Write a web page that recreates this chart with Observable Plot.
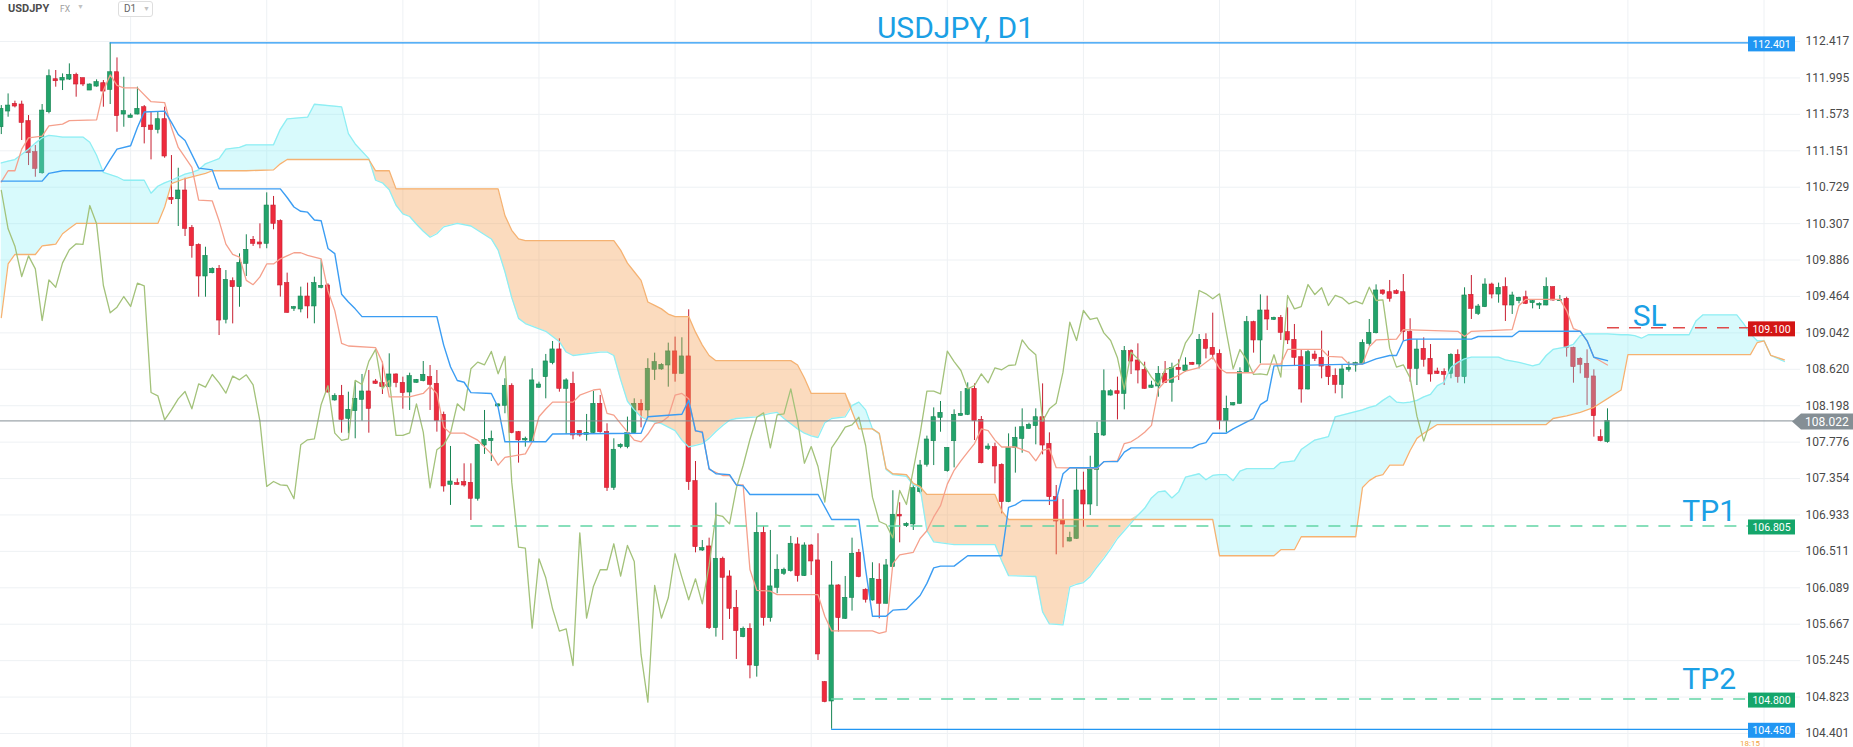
<!DOCTYPE html>
<html>
<head>
<meta charset="utf-8">
<script src="https://cdn.jsdelivr.net/npm/d3@7"></script>
<script src="https://cdn.jsdelivr.net/npm/@observablehq/plot@0.6"></script>
<style>
  html, body { margin: 0; padding: 0; background: #fff; overflow: hidden; }
  #wrap { position: relative; width: 1853px; height: 747px; font-family: Roboto, "Noto Sans", sans-serif; }
  #chart svg { display: block; }
  #hdr { position: absolute; left: 0; top: 0; width: 200px; height: 20px; }
  #sym { position: absolute; left: 8px; top: 2px; font-size: 11px; font-weight: 700; color: #4c4c4c; }
  #fx { position: absolute; left: 60px; top: 4px; font-size: 8.5px; color: #9d9d9d; }
  .tri { position: absolute; font-size: 7px; color: #c2c2c2; }
  #tf { position: absolute; left: 118px; top: 1px; width: 33px; height: 14px; border: 1px solid #dedede; border-radius: 3px; background: #fff; }
  #tf .lbl { position: absolute; left: 5px; top: 1px; font-size: 10px; color: #666; }
</style>
</head>
<body>
<div id="wrap">
  <div id="chart"></div>
  <div id="hdr">
    <span id="sym">USDJPY</span>
    <span id="fx">FX</span>
    <span class="tri" style="left:77px;top:3px;">&#9660;</span>
    <div id="tf"><span class="lbl">D1</span><span class="tri" style="left:24px;top:3px;">&#9660;</span></div>
  </div>
</div>
<script>
// ---------------- DATA ----------------
const open = [111.424,111.606,111.695,111.687,111.494,111.135,110.891,111.598,111.980,111.965,111.976,112.030,111.992,111.849,111.895,111.934,111.857,112.061,111.571,111.532,111.571,111.656,111.444,111.393,111.517,110.606,110.590,110.691,110.258,110.061,109.695,109.733,109.783,109.193,109.641,109.571,109.842,110.120,110.089,110.073,110.517,110.336,109.618,109.321,109.313,109.463,109.348,109.564,109.591,108.259,108.313,108.046,108.135,108.266,108.363,108.479,108.460,108.413,108.560,108.463,108.351,108.463,108.483,108.529,108.452,108.093,107.282,107.301,107.313,107.305,107.120,107.738,107.788,108.190,108.197,108.429,107.892,107.796,107.784,108.406,108.529,108.691,108.850,108.394,108.452,107.904,107.861,107.881,108.220,107.892,107.247,107.718,107.718,107.881,108.220,108.143,108.614,108.618,108.664,108.827,108.568,108.769,107.325,106.521,106.568,105.622,106.425,106.220,105.857,105.518,105.614,105.182,106.726,105.738,106.089,106.251,106.282,106.591,106.224,106.579,106.406,104.996,104.772,106.116,105.730,105.973,106.494,106.066,105.942,106.182,105.904,106.329,106.935,106.803,106.823,107.197,107.514,107.787,108.057,107.440,107.787,108.081,108.092,108.393,108.034,107.698,107.718,107.513,107.081,107.706,107.814,107.930,107.961,108.065,107.756,107.139,106.868,106.625,106.656,107.216,107.054,107.455,107.853,108.316,108.366,108.335,108.830,108.722,108.613,108.405,108.421,108.567,108.463,108.637,108.598,108.695,108.676,108.961,108.869,108.799,108.019,108.201,108.220,108.579,109.166,108.954,109.301,109.193,109.216,109.050,108.961,108.760,108.386,108.791,108.753,108.652,108.544,108.440,108.614,108.664,108.683,108.915,109.038,109.533,109.513,109.525,109.513,109.050,108.625,108.857,108.741,108.594,108.587,108.567,108.788,108.529,109.482,109.262,109.340,109.602,109.486,109.571,109.359,109.409,109.455,109.386,109.359,109.359,109.571,109.409,109.436,108.869,108.741,108.683,108.537,107.834,107.776];
const high = [111.675,111.810,111.726,111.726,111.559,111.212,111.687,112.088,112.081,112.042,112.158,112.050,111.992,111.926,111.973,111.965,112.401,112.227,112.003,111.579,111.888,111.675,111.598,111.598,111.656,111.096,110.949,110.834,110.285,110.073,110.034,109.795,109.822,109.764,109.679,109.957,110.178,110.158,110.305,110.664,110.622,110.351,109.734,109.348,109.572,109.618,109.687,109.888,109.610,108.336,108.433,108.355,108.471,108.560,108.606,108.502,108.703,108.799,108.567,108.529,108.575,108.502,108.710,108.664,108.606,108.124,107.726,107.351,107.525,107.525,107.750,108.143,107.904,108.220,108.510,108.452,107.900,107.834,108.626,108.471,108.792,108.942,108.973,108.510,108.587,107.911,108.097,108.363,108.317,107.989,107.815,107.757,108.066,108.278,108.267,108.742,108.807,108.684,108.923,108.993,108.985,109.309,107.552,106.637,106.664,107.070,106.444,106.286,106.058,105.634,105.672,106.958,106.800,106.753,106.471,106.317,106.684,106.668,106.610,106.591,106.715,105.004,106.394,106.124,106.220,106.664,106.533,106.078,106.379,106.367,106.417,107.213,107.074,106.842,107.274,107.564,107.846,108.173,108.247,107.710,108.150,108.362,108.463,108.451,108.073,107.756,107.764,107.525,107.872,107.949,108.162,107.996,108.162,108.451,107.884,107.274,107.111,106.733,107.467,107.428,107.613,108.007,108.613,108.382,108.529,108.884,108.845,108.915,108.702,108.482,108.652,108.710,108.691,108.730,108.753,108.700,109.023,109.031,109.270,108.845,108.309,108.235,108.637,109.232,109.177,109.482,109.467,109.224,109.243,109.332,109.139,108.849,108.845,108.830,109.062,108.830,108.625,108.672,108.703,108.703,108.961,109.197,109.598,109.540,109.649,109.540,109.718,109.205,108.961,108.984,108.907,108.633,108.625,108.799,108.845,109.564,109.706,109.371,109.668,109.618,109.618,109.679,109.513,109.455,109.525,109.425,109.390,109.679,109.575,109.475,109.455,108.876,108.753,108.845,108.614,107.919,108.162];
const low = [111.339,111.540,111.648,111.270,110.980,110.845,110.880,111.579,111.888,111.849,111.965,111.772,111.895,111.849,111.888,111.656,111.687,111.366,111.424,111.532,111.567,111.231,111.046,111.347,111.065,110.529,110.274,110.158,109.907,109.455,109.455,109.726,109.011,109.146,109.146,109.339,109.695,110.043,110.016,110.016,110.236,109.456,109.270,109.290,109.274,109.205,109.147,109.552,108.344,108.251,107.880,107.873,107.815,108.019,107.880,108.444,108.328,108.406,108.406,108.158,108.143,108.460,108.475,108.143,107.892,107.197,107.043,107.278,107.255,106.869,107.093,107.634,107.552,108.182,108.105,107.873,107.533,107.718,107.780,108.400,108.278,108.672,108.355,107.865,107.803,107.834,107.788,107.870,107.880,107.205,107.217,107.700,107.699,107.875,107.942,108.066,108.491,108.610,108.413,108.471,108.560,107.217,106.494,106.510,105.606,105.518,105.479,105.722,105.259,105.510,105.035,105.054,105.645,105.691,106.020,106.232,106.271,106.155,106.220,106.232,105.247,104.757,104.450,105.576,105.722,105.819,106.205,105.912,105.935,105.730,105.900,106.325,106.610,106.788,106.753,107.178,107.487,107.505,107.891,107.428,107.478,108.075,108.084,107.795,107.525,107.679,107.293,106.945,107.075,107.417,107.648,107.925,107.745,107.629,107.042,106.471,106.552,106.620,106.650,106.791,106.926,107.030,107.841,108.310,108.034,108.150,108.559,108.451,108.390,108.400,108.297,108.459,108.239,108.490,108.587,108.668,108.625,108.741,108.730,107.919,107.884,108.195,108.215,108.575,108.807,108.683,109.069,109.185,108.954,108.907,108.652,108.228,108.380,108.710,108.510,108.432,108.336,108.278,108.587,108.587,108.680,108.888,109.030,109.475,109.398,109.486,108.946,108.471,108.432,108.645,108.471,108.560,108.432,108.510,108.459,108.452,109.197,109.243,109.335,109.436,109.386,109.174,109.255,109.378,109.370,109.320,109.313,109.355,109.409,109.405,108.761,108.459,108.567,108.201,107.834,107.780,107.764];
const close = [111.637,111.675,111.664,111.474,111.123,110.942,111.617,112.015,111.957,111.996,112.030,111.919,111.919,111.919,111.946,111.837,112.061,111.552,111.610,111.559,111.637,111.424,111.393,111.517,111.085,110.583,110.691,110.247,110.046,109.695,109.934,109.783,109.185,109.656,109.571,109.853,110.004,110.073,110.066,110.517,110.305,109.591,109.274,109.340,109.463,109.348,109.618,109.587,108.351,108.313,108.035,108.151,108.278,108.363,108.162,108.452,108.413,108.560,108.463,108.344,108.541,108.498,108.556,108.440,108.019,107.263,107.320,107.282,107.274,107.120,107.745,107.803,107.815,108.213,108.429,107.881,107.796,107.815,108.491,108.444,108.711,108.850,108.394,108.491,107.854,107.854,107.884,108.220,107.892,107.247,107.688,107.745,107.881,108.220,108.143,108.626,108.703,108.672,108.827,108.568,108.769,107.313,106.560,106.549,105.622,106.425,106.205,105.846,105.587,105.614,105.189,106.726,105.738,106.105,106.298,106.298,106.599,106.224,106.579,106.394,105.317,104.765,106.116,105.738,105.973,106.483,106.213,105.950,106.193,105.904,106.348,106.935,106.915,106.830,107.243,107.506,107.807,108.065,108.115,107.710,108.092,108.104,108.393,108.019,107.532,107.725,107.494,107.081,107.710,107.826,107.949,107.976,108.065,107.737,107.139,106.857,106.822,106.667,107.216,107.054,107.455,107.872,108.366,108.366,108.335,108.830,108.710,108.606,108.393,108.432,108.567,108.463,108.637,108.614,108.664,108.672,108.961,108.857,108.788,108.019,108.162,108.228,108.587,109.166,108.954,109.301,109.197,109.216,109.042,108.954,108.753,108.386,108.818,108.741,108.652,108.529,108.440,108.618,108.637,108.691,108.927,109.042,109.533,109.494,109.436,109.494,109.050,108.625,108.849,108.730,108.560,108.567,108.556,108.788,108.529,109.475,109.320,109.347,109.602,109.486,109.564,109.359,109.475,109.448,109.378,109.409,109.378,109.571,109.417,109.425,108.865,108.645,108.672,108.521,108.077,107.788,108.022];

// Tenkan-sen (conversion line) read at bar indices
const tenkanIdx = [0,1,2,3,4,6,7,9,10,14,15,16,17,18,20,22,24,25,26,28,29,31,32,33,34,35,36,37,38,39,40,41,43,44,45,47,48,49,50,51,55,56,57,60,62,63,64,65,66,68,70,72,73,74,77,78,79,80,81,84,85,87,88,89,90,91,93,94,95,96,97,98,99,100,101,102,103,104,106,107,108,109,110,111,113,114,120,121,122,128,129,130,131,132,134,135,136,137,138,139,140,141,142,143,144,145,146,147,149,151,152,153,154,155,161,162,164,165,166,167,168,169,170,171,173,174,176,178,179,180,184,185,188,189,194,195,197,198,200,201,202,205,206,214,215,216,222,223,224,229,230,231,232,233,234,236];
const tenkanVal = [110.79,110.92,110.92,111.17,111.30,111.32,111.44,111.46,111.50,111.51,111.85,112.03,111.91,111.88,111.88,111.72,111.71,111.42,111.19,110.96,110.58,110.57,110.34,110.07,109.95,109.92,109.65,109.60,109.69,109.84,109.84,109.90,109.97,109.97,109.94,109.90,109.53,109.30,108.92,108.89,108.87,108.70,108.30,108.30,108.34,108.42,108.34,107.95,107.88,107.88,107.80,107.64,107.51,107.60,107.64,107.78,108.07,108.16,108.24,108.24,108.32,108.38,108.39,108.11,108.09,107.99,107.80,107.78,107.87,107.99,108.01,108.07,108.32,108.34,108.28,107.90,107.90,107.46,107.39,107.39,107.28,107.28,106.30,106.06,106.05,106.01,106.01,105.76,105.59,105.59,105.56,105.58,106.37,106.47,106.50,106.66,106.75,106.91,107.04,107.29,107.45,107.56,107.66,107.76,107.93,107.91,107.80,107.72,107.72,107.66,107.56,107.68,107.70,107.48,107.47,107.55,107.56,107.76,107.78,107.83,107.89,107.97,108.39,108.48,108.55,108.60,108.64,108.76,108.63,108.58,108.58,108.68,108.68,108.85,108.85,108.77,108.76,108.68,108.68,108.88,108.96,108.97,109.08,109.06,109.00,109.06,109.08,109.36,109.43,109.43,109.30,109.09,109.06,108.95,108.76,108.67];

// Kijun-sen (base line) read at bar indices
const kijunIdx = [0,6,7,9,15,16,17,19,20,21,24,25,26,27,29,31,32,41,42,43,44,45,46,47,48,49,50,51,52,53,64,65,66,67,68,69,72,73,74,80,81,94,95,100,101,102,103,104,105,107,108,109,110,120,122,126,127,128,130,131,133,135,136,137,138,140,142,147,148,149,150,155,156,157,161,162,164,165,166,175,176,177,178,180,181,182,183,184,185,186,187,199,200,202,204,205,206,207,216,217,222,223,232,233,234,236];
const kijunVal = [110.80,110.80,110.89,110.92,110.92,111.05,111.17,111.21,111.42,111.60,111.61,111.48,111.34,111.27,110.95,110.93,110.71,110.71,110.61,110.50,110.45,110.44,110.35,110.34,110.02,109.96,109.49,109.40,109.32,109.23,109.23,108.90,108.65,108.49,108.47,108.35,108.34,108.18,107.78,107.78,107.87,107.88,108.07,108.10,108.26,107.91,107.89,107.47,107.41,107.40,107.28,107.27,107.17,107.17,106.88,106.88,106.30,105.76,105.76,105.83,105.84,106.00,106.14,106.32,106.34,106.34,106.46,106.46,107.02,107.05,107.10,107.10,107.41,107.48,107.48,107.55,107.55,107.66,107.71,107.71,107.75,107.77,107.88,107.88,107.93,107.97,108.01,108.05,108.21,108.26,108.66,108.68,108.68,108.74,108.78,108.78,108.95,108.97,108.97,109.00,109.00,109.06,109.06,108.95,108.76,108.72];

// Senkou span A / B (cloud), both read at the same bar indices (projected 26 bars ahead)
const cloudIdx = [0,1,2,4,5,6,7,8,9,10,11,12,13,14,15,17,18,21,22,23,24,25,27,28,29,30,31,32,33,35,36,40,41,42,45,46,50,51,52,54,55,56,57,58,59,60,61,62,63,64,65,67,69,72,73,74,75,76,77,80,82,83,84,88,89,90,91,92,93,94,95,96,97,98,99,100,101,102,103,104,105,106,107,108,111,113,114,115,116,117,118,119,120,121,122,124,125,126,127,128,129,130,131,133,134,135,136,137,140,146,147,148,152,153,154,156,157,158,159,160,161,162,163,164,165,166,167,168,169,170,171,172,173,174,176,177,178,179,180,181,182,183,187,188,190,191,193,195,196,198,199,200,201,202,203,204,205,206,207,208,209,210,211,212,213,214,215,216,220,221,223,225,226,227,228,230,231,232,233,234,236,238,239,240,241,242,248,249,250,255,256,257,258,259,260,262];
const senkouA = [111.01,111.03,111.05,111.17,111.24,111.30,111.33,111.32,111.31,111.31,111.31,111.31,111.25,111.10,110.90,110.85,110.81,110.81,110.66,110.74,110.78,110.81,110.88,110.90,110.93,111.00,111.03,111.06,111.17,111.19,111.22,111.22,111.40,111.52,111.54,111.69,111.66,111.35,111.23,111.06,110.81,110.78,110.70,110.52,110.42,110.39,110.30,110.22,110.15,110.19,110.27,110.31,110.28,110.13,110.00,109.75,109.45,109.21,109.15,109.06,108.94,108.82,108.78,108.82,108.82,108.78,108.50,108.25,108.15,108.07,108.03,108.01,107.99,107.95,107.91,107.80,107.72,107.74,107.76,107.82,107.90,107.97,108.03,108.05,108.07,108.11,108.12,108.05,107.99,107.93,107.88,107.85,107.83,108.00,108.05,108.07,108.20,108.24,108.15,107.93,107.87,107.46,107.40,107.38,107.28,107.25,106.75,106.62,106.59,106.59,106.40,106.23,106.22,105.81,105.67,105.66,106.10,106.13,106.15,106.22,106.33,106.43,106.54,106.66,106.75,106.84,106.93,107.01,107.13,107.20,107.21,107.13,107.20,107.37,107.41,107.34,107.39,107.40,107.40,107.33,107.44,107.47,107.47,107.54,107.56,107.69,107.80,107.84,108.07,108.11,108.13,108.15,108.18,108.20,108.26,108.31,108.24,108.23,108.24,108.26,108.30,108.33,108.43,108.47,108.64,108.70,108.74,108.76,108.76,108.73,108.70,108.66,108.68,108.78,108.85,108.88,108.91,109.01,109.03,109.03,109.03,109.02,109.02,109.01,108.98,109.02,109.02,109.18,109.25,109.25,109.15,109.03,108.95,108.95,108.78,108.71];
const senkouB = [109.22,109.84,109.95,109.95,109.95,110.05,110.06,110.07,110.19,110.25,110.31,110.31,110.31,110.31,110.31,110.31,110.31,110.31,110.31,110.31,110.50,110.77,110.83,110.85,110.87,110.89,110.92,110.92,110.92,110.92,110.92,110.93,111.00,111.05,111.05,111.05,111.05,111.05,111.05,111.05,110.92,110.92,110.92,110.71,110.71,110.71,110.71,110.71,110.71,110.71,110.71,110.71,110.71,110.71,110.71,110.40,110.23,110.13,110.11,110.11,110.11,110.11,110.11,110.11,110.11,110.11,110.00,109.85,109.75,109.65,109.40,109.36,109.32,109.26,109.23,109.23,109.23,109.05,108.90,108.78,108.72,108.72,108.72,108.72,108.72,108.72,108.72,108.72,108.72,108.67,108.52,108.34,108.34,108.34,108.34,108.34,108.13,107.93,107.93,107.93,107.88,107.47,107.41,107.40,107.30,107.26,107.17,107.17,107.17,107.17,106.98,106.88,106.88,106.88,106.88,106.88,106.88,106.88,106.88,106.88,106.88,106.88,106.88,106.88,106.88,106.88,106.88,106.88,106.88,106.88,106.88,106.88,106.88,106.88,106.88,106.88,106.88,106.46,106.46,106.46,106.46,106.46,106.46,106.53,106.53,106.68,106.68,106.68,106.68,106.68,106.68,107.25,107.33,107.38,107.40,107.51,107.51,107.51,107.68,107.82,107.88,107.93,107.98,107.98,107.98,107.98,107.98,107.98,107.98,107.98,107.98,107.98,107.98,107.98,108.05,108.08,108.10,108.12,108.15,108.18,108.28,108.38,108.79,108.79,108.79,108.79,108.79,108.79,108.79,108.79,108.79,108.79,108.93,108.95,108.78,108.73];

// Price levels drawn on the chart
const levelValues = [112.401, 109.100, 106.805, 104.800, 104.450];
const levelFromBar = [16, 236, 69, 122, 122];
const levelKind = ["high", "sl", "tp", "tp", "low"];
const lastPrice = 108.022;

// Axis tick labels (right price scale) and vertical grid bars
const tickLabels = [112.417,111.995,111.573,111.151,110.729,110.307,109.886,109.464,109.042,108.620,108.198,107.776,107.354,106.933,106.511,106.089,105.667,105.245,104.823,104.401];
const gridBars = [19,39,59,79,99,119,139,159,179,199,219,239,259];

// Text annotations
const annText = ["SL", "TP1", "TP2"];
const annPrice = [109.127, 106.860, 104.911];
const annBar = [239.7, 247.0, 247.0];

// ---------------- LAYOUT / STYLE ----------------
const W = 1853, H = 747, MR = 53;
const xDomain = [-0.1175, 264.36];
const yDomain = [104.239, 112.892];
const xs = d3.scaleLinear().domain(xDomain).range([0, W - MR]);
const LABEL_X = 1748, LABEL_W = 47;
const levelEnd = xs.invert(LABEL_X);

const C = {
  upFill: "#22a36b", upStroke: "#168452",
  dnFill: "#ee2b3d", dnStroke: "#c71f31",
  grid: "#eef1f4",
  tenkan: "#f5a08c", kijun: "#3b9df3", chikou: "#a3c27a",
  spanA: "#8eeef3", spanB: "#f5b272",
  cloudUp: "#7deef5", cloudDn: "#f49c4a",
  blue: "#2196f3", red: "#d31515", green: "#15a66b",
  tpLine: "#62d5a5", slLine: "#e04a4a", last: "#858f95",
  annot: "#1aa0e5"
};

const bars = close.map((c, i) => {
  const o = open[i];
  const lo = Math.min(o, c), hi = Math.max(o, c);
  const pad = hi - lo < 0.014 ? (0.014 - (hi - lo)) / 2 : 0;
  return {i, o, h: high[i], l: low[i], c, up: c >= o, b1: lo - pad, b2: hi + pad};
});
const tenkan = tenkanIdx.map((i, k) => ({i, v: tenkanVal[k]}));
const kijun = kijunIdx.map((i, k) => ({i, v: kijunVal[k]}));
const cloud = cloudIdx.map((i, k) => ({i, a: senkouA[k], b: senkouB[k], top: Math.max(senkouA[k], senkouB[k])}));
const levels = levelValues.map((v, k) => ({v, from: levelFromBar[k], kind: levelKind[k]}));
const anns = annText.map((t, k) => ({t, y: annPrice[k], x: annBar[k]}));

const levelColor = k => k === "sl" ? C.slLine : (k === "tp" ? C.tpLine : C.blue);

const chart = Plot.plot({
  width: W, height: H,
  marginLeft: 0, marginRight: MR, marginTop: 0, marginBottom: 0,
  style: {fontFamily: "Roboto, 'Noto Sans', sans-serif", background: "#fff", overflow: "hidden"},
  x: {type: "linear", domain: xDomain, axis: null},
  y: {type: "linear", domain: yDomain, axis: null},
  marks: [
    Plot.ruleX(gridBars, {stroke: C.grid, strokeWidth: 1}),
    Plot.ruleY(tickLabels, {stroke: C.grid, strokeWidth: 1}),
    // candles
    Plot.ruleX(bars, {x: "i", y1: "l", y2: "h", stroke: d => d.up ? C.upStroke : C.dnStroke, strokeWidth: 1}),
    Plot.rect(bars, {x1: d => d.i - 0.32, x2: d => d.i + 0.32, y1: "b1", y2: "b2",
      fill: d => d.up ? C.upFill : C.dnFill, stroke: d => d.up ? C.upStroke : C.dnStroke, strokeWidth: 0.6}),
    // cloud fills (drawn over the candles, translucent)
    Plot.areaY(cloud, {x: "i", y1: "b", y2: "top", fill: C.cloudUp, fillOpacity: 0.3}),
    Plot.areaY(cloud, {x: "i", y1: "a", y2: "top", fill: C.cloudDn, fillOpacity: 0.36}),
    Plot.line(cloud, {x: "i", y: "a", stroke: C.spanA, strokeWidth: 1.3}),
    Plot.line(cloud, {x: "i", y: "b", stroke: C.spanB, strokeWidth: 1.3}),
    // chikou span: closes drawn 26 bars back
    Plot.line(bars.filter(d => d.i >= 26), {x: d => d.i - 26, y: "c", stroke: C.chikou, strokeWidth: 1.3}),
    Plot.line(tenkan, {x: "i", y: "v", stroke: C.tenkan, strokeWidth: 1.3}),
    Plot.line(kijun, {x: "i", y: "v", stroke: C.kijun, strokeWidth: 1.4}),
    // level lines
    Plot.ruleY(levels.filter(d => d.kind === "high" || d.kind === "low"), {y: "v", x1: "from", x2: levelEnd, stroke: C.blue, strokeWidth: 1.3}),
    Plot.ruleY(levels.filter(d => d.kind === "tp" || d.kind === "sl"), {y: "v", x1: "from", x2: levelEnd, stroke: d => levelColor(d.kind), strokeWidth: 1.5, strokeDasharray: "12,10"}),
    Plot.ruleY([lastPrice], {stroke: C.last, strokeWidth: 1}),
    // right price axis labels
    Plot.text(tickLabels, {y: d => d, text: d => d.toFixed(3), frameAnchor: "right", textAnchor: "start", dx: 5, fontSize: 12, fill: "#4a4a4a"}),
    // title and annotations
    Plot.text(["USDJPY, D1"], {frameAnchor: "top", dx: 55, dy: 37, lineAnchor: "bottom", fontSize: 30, fill: C.annot}),
    Plot.text(anns, {x: "x", y: "y", text: "t", textAnchor: "start", lineAnchor: "bottom", fontSize: 30, fill: C.annot})
  ]
});

document.getElementById("chart").appendChild(chart);

// level label boxes positioned with the chart's own y scale
const ys = chart.scale("y");
const svg = d3.select(chart);
const g = svg.append("g").attr("font-family", "Roboto, 'Noto Sans', sans-serif").attr("text-anchor", "start");
levels.forEach(L => {
  const yy = ys.apply(L.v) + 1.5;
  const fill = L.kind === "sl" ? C.red : (L.kind === "tp" ? C.green : C.blue);
  g.append("rect").attr("x", LABEL_X).attr("y", yy - 7.5).attr("width", LABEL_W).attr("height", 15).attr("fill", fill);
  g.append("text").attr("x", LABEL_X + LABEL_W / 2).attr("y", yy).attr("dy", "0.35em")
    .attr("text-anchor", "middle").attr("font-size", 10.5).attr("fill", "#fff").text(L.v.toFixed(3));
});
{
  const yy = ys.apply(lastPrice) + 1;
  g.append("path").attr("d", `M1792,${yy}L1801,${yy - 8}H1853V${yy + 8}H1801Z`).attr("fill", C.last);
  g.append("text").attr("x", 1805).attr("y", yy).attr("dy", "0.35em").attr("text-anchor", "start")
    .attr("font-size", 12).attr("fill", "#fff").text(lastPrice.toFixed(3));
}
g.append("text").attr("x", 1740).attr("y", 746).attr("text-anchor", "start")
  .attr("font-size", 8).attr("fill", "#f2a23a").text("18:15");
</script>
</body>
</html>
